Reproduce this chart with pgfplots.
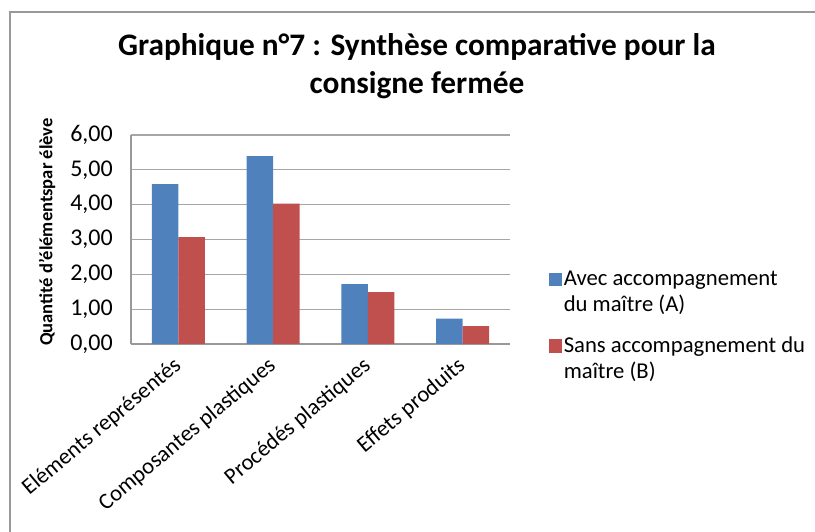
\documentclass[border=0pt]{standalone}
\usepackage{pgfplots}
\pgfplotsset{compat=1.18}
\usepackage{fontspec}
\setmainfont{Carlito}
\definecolor{serA}{HTML}{4F81BD}
\definecolor{serB}{HTML}{C0504D}
\begin{document}
\begin{tikzpicture}
\useasboundingbox (0pt,0pt) rectangle (611.25pt,399pt);
\draw[gray!80, line width=1.5pt] (7.5pt,0pt) -- (7.5pt,390pt) -- (611.25pt,390pt);
\node[font=\fontsize{23.5}{28}\selectfont\bfseries, align=center] at (312.75pt,349.5pt) {Graphique n°7 : Synthèse comparative pour la\\consigne fermée};
\node[rotate=90, font=\fontsize{13.9}{16}\selectfont\bfseries] at (35.25pt,225pt) {Quantité d'élémentspar élève};
\begin{axis}[
  at={(98.25pt,141pt)}, anchor=south west,
  scale only axis, width=284.25pt, height=156.75pt,
  ybar=0pt, bar width=0.28,
  xmin=-0.5, xmax=3.5, ymin=0, ymax=6,
  ytick={0,1,2,3,4,5,6},
  xtick={0,1,2,3},
  xticklabels={Eléments représentés, Composantes plastiques, Procédés plastiques, Effets produits},
  xtick style={draw=none}, ytick style={draw=none},
  axis x line*=bottom, axis y line*=left,
  axis line style={gray!80, line width=0.8pt},
  ymajorgrids, grid style={gray!70, line width=0.8pt},
  tick label style={font=\fontsize{18}{21}\selectfont},
  /pgf/number format/.cd, fixed, fixed zerofill, precision=2, use comma, assume math mode=true,
  /pgfplots/.cd,
  yticklabel style={inner sep=0pt, xshift=-13.5pt},
  xticklabel style={font=\fontsize{17}{20}\selectfont, yshift=-10pt, rotate=40, anchor=east, inner sep=0pt},
  legend style={at={(1.092,0.37)}, anchor=north west, draw=none, fill=none,
    nodes={align=left, font=\fontsize{17}{19.5}\selectfont, inner sep=1pt}, row sep=15.5pt,
    /tikz/every even column/.append style={column sep=2pt}},
  legend cell align=left,
  legend image code/.code={\fill[#1] (0pt,4.5pt) rectangle (10pt,14.5pt); \path (0pt,-14.5pt);},
  enlargelimits=false,
]
\addplot[fill=serA, draw=none] coordinates {(0,4.59) (1,5.39) (2,1.72) (3,0.73)};
\addplot[fill=serB, draw=none] coordinates {(0,3.07) (1,4.03) (2,1.49) (3,0.51)};
\legend{Avec accompagnement\\du maître (A), Sans accompagnement du\\maître (B)}
\end{axis}
\end{tikzpicture}
\end{document}
